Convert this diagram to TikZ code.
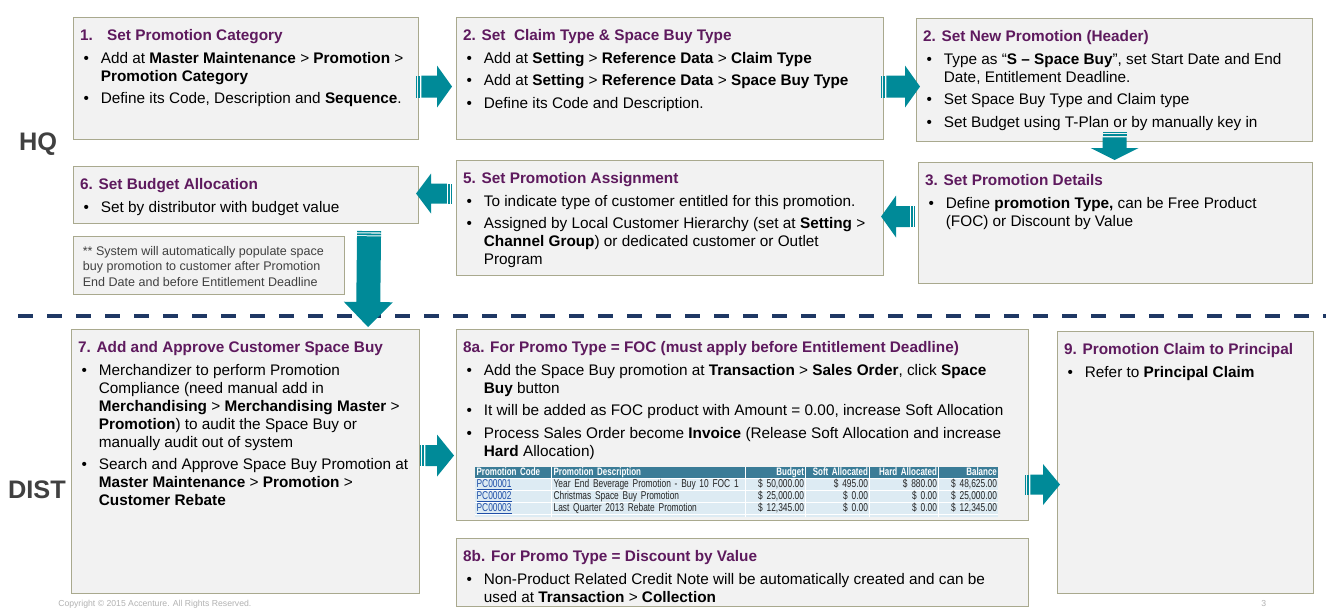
\documentclass[tikz,border=0pt]{standalone}
\usepackage{fontspec}
\setmainfont{Liberation Sans}
\newfontfamily\tablefont[FakeStretch=0.74]{Liberation Sans}
\usetikzlibrary{positioning, calc, matrix}

\definecolor{panelfill}{HTML}{F2F2F2}
\definecolor{panelline}{HTML}{A9A98E}
\definecolor{titlepurple}{HTML}{5E1A5E}
\definecolor{arrowteal}{HTML}{008A98}
\definecolor{dividerblue}{HTML}{1F3864}
\definecolor{labelgray}{HTML}{404040}
\definecolor{tablehead}{HTML}{3B7C97}
\definecolor{tablerow}{HTML}{DDEBF3}
\definecolor{linkblue}{HTML}{1F4FA8}

\newlength{\pxu}\setlength{\pxu}{0.75pt}
\newcommand{\panelbody}[3]{\parbox[c][\dimexpr#2\pxu-8pt\relax][t]{\dimexpr#1\pxu-10pt\relax}{\raggedright#3}}
\newcommand{\steptitle}[1]{\rule{0pt}{13pt}{\color{titlepurple}\bfseries#1}\par}
\newcommand{\bitem}[1]{\par\vspace{3.6pt}\hangindent=15.5pt\hangafter=1\noindent\makebox[15.5pt][l]{\hspace{2.5pt}\textbullet}#1\par}
\newcommand{\promolink}[1]{\textcolor{linkblue}{\underline{#1}}}

\newcommand{\blockarrow}[5]{%
  \path (#1) coordinate (arrowtail) (#2) coordinate (arrowtip);
  \pgfpointdiff{\pgfpointanchor{arrowtail}{center}}{\pgfpointanchor{arrowtip}{center}}%
  \pgfgetlastxy{\arrowdx}{\arrowdy}%
  \pgfmathsetmacro{\arrowang}{atan2(\arrowdy,\arrowdx)}%
  \pgfmathsetmacro{\arrowlen}{veclen(\arrowdx,\arrowdy)/0.75}%
  \begin{scope}[shift={(arrowtail)}, rotate=\arrowang]
    \fill[arrowteal] (0,-#3) rectangle (1.3,#3);
    \fill[arrowteal] (2.4,-#3) rectangle (4.2,#3);
    \fill[arrowteal] (5.2,-#3) -- (\arrowlen-#5,-#3) -- (\arrowlen-#5,-#4)
      -- (\arrowlen,0) -- (\arrowlen-#5,#4) -- (\arrowlen-#5,#3) -- (5.2,#3) -- cycle;
  \end{scope}}

\begin{document}
\begin{tikzpicture}[x=0.75pt, y=-0.75pt,
    panel/.style={draw=panelline, fill=panelfill, line width=0.8pt, anchor=north west,
      inner xsep=5pt, inner ysep=4pt, font=\fontsize{11.5}{13.5}\selectfont},
    remark/.style={panel, font=\fontsize{9.4}{11.6}\selectfont, text=labelgray},
    lanelabel/.style={font=\bfseries\fontsize{19}{19}\selectfont, text=labelgray},
    divider/.style={draw=dividerblue, line width=3pt, dash pattern=on 11.25pt off 10.5pt},
    footer/.style={anchor=north west, inner sep=0pt, font=\fontsize{6.5}{7}\selectfont, text=black!30},
    promotable/.style={matrix of nodes, anchor=north west, inner sep=0pt, fill=white,
      column sep=0.75pt, row sep=0.75pt, nodes in empty cells,
      nodes={fill=tablerow, text=black!85, inner xsep=1pt, inner ysep=0pt, text height=6.1pt,
        text depth=2.15pt, anchor=center, font=\tablefont\fontsize{8.5}{9}\selectfont},
      column 1/.style={nodes={text width=55pt, align=left}},
      column 2/.style={nodes={text width=142.75pt, align=left}},
      column 3/.style={nodes={text width=42.25pt, align=right}},
      column 4/.style={nodes={text width=45.25pt, align=right}},
      column 5/.style={nodes={text width=49pt, align=right}},
      column 6/.style={nodes={text width=42.25pt, align=right}},
      row 1/.style={nodes={fill=tablehead, text=white, text height=6.3pt, text depth=1.9pt,
        font=\tablefont\bfseries\fontsize{8.1}{9}\selectfont}},
      row 5/.style={nodes={text height=1.2pt, text depth=0pt}}}]

\path[use as bounding box, fill=white] (0,0) rectangle (1326,612);

\node[lanelabel] (hq) at (38,144) {HQ};
\node[lanelabel] (dist) at (37,490) {DIST};

\node[panel] (category) at (73,17) {\panelbody{345}{122}{%
  \steptitle{\makebox[20.25pt][l]{1.}Set Promotion Category}
  \bitem{Add at \textbf{Master Maintenance} > \textbf{Promotion} >\newline \textbf{Promotion Category}}
  \bitem{Define its Code, Description and \textbf{Sequence}.}}};
\node[panel] (claimtype) at (456,17) {\panelbody{427}{122}{%
  \steptitle{2. Set\ \ Claim Type \& Space Buy Type}
  \bitem{Add at \textbf{Setting} > \textbf{Reference Data} > \textbf{Claim Type}}
  \bitem{Add at \textbf{Setting} > \textbf{Reference Data} > \textbf{Space Buy Type}}
  \bitem{Define its Code and Description.}}};
\node[panel] (header) at (916,18) {\panelbody{396}{123}{%
  \steptitle{2. Set New Promotion (Header)}
  \bitem{Type as “\textbf{S – Space Buy}”, set Start Date and End\newline Date, Entitlement Deadline.}
  \bitem{Set Space Buy Type and Claim type}
  \bitem{Set Budget using T-Plan or by manually key in}}};
\node[panel] (details) at (918,162) {\panelbody{394}{121}{%
  \steptitle{3. Set Promotion Details}
  \bitem{Define \textbf{promotion Type,} can be Free Product\newline (FOC) or Discount by Value}}};
\node[panel] (assignment) at (456,160) {\panelbody{427}{115}{%
  \steptitle{5. Set Promotion Assignment}
  \bitem{To indicate type of customer entitled for this promotion.}
  \bitem{Assigned by Local Customer Hierarchy (set at \textbf{Setting} >\newline \textbf{Channel Group}) or dedicated customer or Outlet\newline Program}}};
\node[panel] (budget) at (73,166) {\panelbody{345}{57}{%
  \steptitle{6. Set Budget Allocation}
  \bitem{Set by distributor with budget value}}};
\node[remark] (note) at (73,236) {\panelbody{271}{58}{\leftskip=2pt
  \rule{0pt}{10.2pt}** System will automatically populate space\newline
  buy promotion to customer after Promotion\newline
  End Date and before Entitlement Deadline}};

\draw[divider] (18,316) -- (1326,316);

\node[panel] (approve) at (71,329) {\panelbody{348}{264}{%
  \steptitle{7. Add and Approve Customer Space Buy}
  \bitem{Merchandizer to perform Promotion\newline Compliance (need manual add in\newline \textbf{Merchandising} > \textbf{Merchandising Master} >\newline \textbf{Promotion}) to audit the Space Buy or\newline manually audit out of system}
  \bitem{Search and Approve Space Buy Promotion at\newline \textbf{Master Maintenance} > \textbf{Promotion} >\newline \textbf{Customer Rebate}}}};
\node[panel] (foc) at (456,329) {\panelbody{572}{191}{%
  \steptitle{8a. For Promo Type = FOC (must apply before Entitlement Deadline)}
  \bitem{Add the Space Buy promotion at \textbf{Transaction} > \textbf{Sales Order}, click \textbf{Space}\newline \textbf{Buy} button}
  \bitem{It will be added as FOC product with Amount = 0.00, increase Soft Allocation}
  \bitem{Process Sales Order become \textbf{Invoice} (Release Soft Allocation and increase\newline \textbf{Hard} Allocation)}}};
\matrix[promotable] (promos) at (475,467) {
  Promotion Code & Promotion Description & Budget & Soft Allocated & Hard Allocated & Balance \\
  \promolink{PC00001} & Year End Beverage Promotion - Buy 10 FOC 1 & \$ 50,000.00 & \$ 495.00 & \$ 880.00 & \$ 48,625.00 \\
  \promolink{PC00002} & Christmas Space Buy Promotion & \$ 25,000.00 & \$ 0.00 & \$ 0.00 & \$ 25,000.00 \\
  \promolink{PC00003} & Last Quarter 2013 Rebate Promotion & \$ 12,345.00 & \$ 0.00 & \$ 0.00 & \$ 12,345.00 \\
  & & & & & \\
};
\node[panel] (discount) at (456,538) {\panelbody{572}{68}{%
  \steptitle{8b. For Promo Type = Discount by Value}
  \bitem{Non-Product Related Credit Note will be automatically created and can be\newline used at \textbf{Transaction} > \textbf{Collection}}}};
\node[panel] (claim) at (1057,331) {\panelbody{256}{262}{%
  \steptitle{9. Promotion Claim to Principal}
  \bitem{Refer to \textbf{Principal Claim}}}};

\blockarrow{$(category.east)+(-3,8)$}{$(claimtype.west)+(-4,8)$}{11}{21}{15}
\blockarrow{$(claimtype.east)+(-3,8)$}{$(header.west)+(4,6.5)$}{11}{21}{15}
\blockarrow{$(header.south)+(0,-10)$}{$(header.south |- details.north)+(0,-2)$}{12}{24}{12}
\blockarrow{$(details.west)+(-3,-6.5)$}{$(assignment.east)+(-3,-1.5)$}{10.5}{21}{15}
\blockarrow{$(assignment.west)+(-4,-24.5)$}{$(budget.east)+(-3,-1.5)$}{10}{20}{15}
\blockarrow{$(budget.south east)+(-50,7)$}{$(approve.north west)+(297,-2)$}{12}{24.5}{25}
\blockarrow{$(approve.east)+(0,-6)$}{$(foc.west)+(-2,30.5)$}{10.5}{21}{17}
\blockarrow{$(foc.east)+(-4,59.5)$}{$(claim.west)+(3,22)$}{10}{20.5}{17}

\node[footer] (copyright) at (58,600) {Copyright © 2015 Accenture. All Rights Reserved.};
\node[footer] (pagenum) at (1261,600) {3};
\end{tikzpicture}
\end{document}
